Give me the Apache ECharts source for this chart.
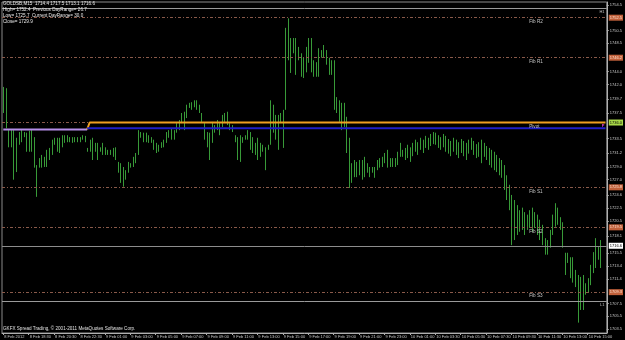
<!DOCTYPE html>
<html><head><meta charset="utf-8">
<script src="https://cdn.jsdelivr.net/npm/echarts@6/dist/echarts.min.js"></script>
<style>html,body{margin:0;padding:0;background:#000;}#c{width:625px;height:340px;}</style>
</head><body><div id="c"></div>
<script>
const symbolName = 'GOLDSB,M15';
const lastBar = [1714.4, 1717.5, 1713.1, 1716.6];
const prevDayHLC = [1752.4, 1725.7, 1729.9];
const dayRanges = [26.7, 30.0];
const copyrightText = 'GKFX Spread Trading, \u00a9 2001-2011 MetaQuotes Software Corp.';

const highs = [
1741.6,1741.4,1734.8,1734.8,1734.8,1733.6,1734.5,1734.8,1734.5,1734.4,
1734.7,1734.8,1733.7,1729.3,1730.4,1730.9,1730.6,1731.7,1732.0,1733.3,
1733.6,1733.6,1733.6,1734.0,1734.0,1734.0,1733.7,1733.7,1733.7,1733.7,
1733.7,1734.0,1733.9,1732.0,1733.3,1733.6,1732.8,1732.8,1732.1,1732.8,
1732.1,1731.7,1731.7,1732.0,1732.1,1729.8,1729.6,1729.0,1728.5,1729.8,
1729.6,1730.6,1731.2,1734.8,1734.5,1734.4,1734.4,1734.0,1733.7,1733.3,
1732.8,1732.5,1732.9,1733.3,1734.5,1734.8,1735.1,1734.8,1735.9,1736.4,
1737.5,1737.7,1738.8,1739.1,1739.2,1739.5,1739.5,1738.8,
1737.5,1735.9,1734.5,1734.4,1736.1,1735.6,1736.4,1735.9,1737.2,1737.5,
1737.7,1735.9,1735.6,1734.0,1733.7,1734.0,1733.7,1734.0,1734.8,1734.5,
1733.7,1732.8,1733.6,1732.8,1732.5,1732.1,1732.5,1739.5,1738.8,1737.2,
1737.2,1737.5,1738.0,1750.9,1752.4,1749.3,1749.3,1749.3,1747.9,1746.9,
1746.2,1747.9,1749.3,1749.3,1745.8,1745.5,1747.7,1747.4,1748.2,1747.4,
1746.2,1745.8,1745.8,1740.0,1739.5,1739.1,1739.1,1736.9,1733.6,1729.6,
1730.1,1729.8,1730.1,1730.1,1730.6,1729.6,1729.0,1729.0,1729.0,1730.1,
1730.4,1730.6,1731.2,1731.7,1730.4,1730.4,1730.4,1731.4,1732.8,1731.7,
1732.0,1732.5,1732.1,1732.8,1733.3,1732.9,1733.6,1733.3,1733.9,1733.6,
1734.2,1734.5,1734.4,1734.0,1733.7,1734.2,1733.9,1733.4,1733.1,1733.6,
1733.3,1732.9,1733.4,1733.1,1732.8,1733.3,1733.6,1733.1,1732.6,1732.9,
1733.3,1732.8,1732.3,1732.0,1731.7,1731.4,1730.9,1730.4,1730.1,1729.3,
1727.7,1726.2,1724.6,1723.8,1723.0,1722.2,1722.6,1721.9,1721.5,1722.2,
1722.6,1721.9,1721.5,1720.7,1719.9,1717.8,1717.5,1719.1,1721.5,1723.3,
1722.6,1721.1,1720.3,
1715.5,1715.5,1714.8,1714.8,1712.8,1712.0,1711.7,1712.0,1710.7,1711.5,
1713.6,1715.6,1717.8,1716.4,1717.5
];
const lows = [
1737.5,1735.1,1732.1,1732.1,1727.0,1728.2,1732.5,1732.9,1733.7,1731.4,
1731.4,1731.4,1728.9,1724.3,1728.9,1728.9,1729.0,1729.0,1730.1,1730.9,
1732.5,1731.4,1731.2,1732.1,1732.8,1732.9,1732.9,1732.8,1732.9,1732.9,
1732.9,1733.3,1732.9,1731.4,1731.4,1730.1,1731.4,1730.1,1731.4,1730.9,
1730.9,1730.9,1730.9,1730.6,1730.1,1728.1,1726.5,1725.9,1727.0,1728.1,
1728.9,1729.0,1729.6,1730.9,1733.6,1732.9,1732.9,1732.8,1732.8,1731.7,
1731.2,1731.4,1732.0,1732.1,1732.8,1733.6,1733.3,1733.3,1734.4,1734.8,
1735.9,1734.8,1736.7,1738.3,1738.0,1738.4,1738.0,1737.5,
1736.1,1733.3,1732.1,1730.1,1732.8,1734.4,1734.8,1734.0,1735.3,1736.1,
1735.6,1734.8,1734.5,1732.9,1730.1,1729.8,1732.8,1733.3,1733.3,1731.7,
1731.2,1730.9,1730.1,1730.6,1731.4,1728.5,1731.7,1732.5,1734.4,1733.3,
1731.7,1735.9,1732.0,1738.0,1745.8,1743.8,1746.9,1743.5,1745.8,1743.2,
1743.0,1743.9,1745.4,1743.9,1743.2,1743.2,1743.2,1746.2,1746.3,1745.1,
1743.5,1743.5,1738.0,1737.5,1736.1,1734.8,1735.3,1731.2,1725.7,1726.5,
1727.4,1727.4,1727.7,1727.0,1727.4,1728.1,1727.4,1728.1,1727.3,1728.5,
1728.9,1729.0,1729.6,1728.9,1729.0,1729.0,1729.0,1729.3,1730.6,1730.6,
1730.1,1730.4,1729.8,1730.7,1731.4,1730.9,1731.7,1731.2,1732.0,1731.7,
1732.3,1732.6,1732.5,1732.0,1731.7,1732.1,1731.4,1731.1,1730.7,1731.4,
1730.9,1730.4,1731.2,1730.7,1730.1,1731.1,1731.7,1730.9,1730.4,1730.6,
1729.6,1730.6,1730.1,1729.3,1728.9,1728.5,1728.2,1727.7,1727.3,1725.4,
1723.8,1722.2,1716.7,1717.5,1718.3,1718.8,1719.1,1718.3,1719.1,1719.4,
1718.8,1719.4,1718.3,1717.5,1716.7,1715.2,1715.2,1716.3,1718.3,1719.6,
1719.9,1719.1,1716.3,
1712.0,1713.9,1711.5,1710.8,1710.1,1704.5,1706.5,1706.5,1708.9,1709.2,
1710.4,1712.3,1713.1,1714.4,1713.1
];

const timeLabels = ['8 Feb 2012','8 Feb 18:30','8 Feb 20:30','8 Feb 22:30','9 Feb 01:00','9 Feb 03:00',
'9 Feb 05:00','9 Feb 07:00','9 Feb 09:00','9 Feb 11:00','9 Feb 13:00','9 Feb 15:00','9 Feb 17:00',
'9 Feb 19:00','9 Feb 21:00','9 Feb 23:00','10 Feb 01:00','10 Feb 03:30','10 Feb 05:30','10 Feb 07:30',
'10 Feb 09:30','10 Feb 11:30','10 Feb 13:00','10 Feb 15:00'];
const priceTicks = [1754.5,1750.5,1748.5,1744.0,1742.0,1739.7,1737.5,1733.5,1731.2,1729.0,1727.0,
1724.6,1722.5,1720.5,1718.1,1715.5,1713.4,1711.4,1707.5,1705.5,1703.5];

const fibNames = ['Fib R2','Fib R1','Pivot','Fib S1','Fib S2','Fib S3'];
const fibLevels = [1752.5, 1746.2, 1736.0, 1725.8, 1719.5, 1709.3];
const fibTextBar = 207;
const pivotLevel = 1736.0;
const prevPivotLevel = 1734.9;
const blueLevel = 1735.1;
const dayStartIndex = 33;
const extremeNames = ['H1','L1'];
const extremeLevels = [1754.0, 1707.9];
const bidPrice = lastBar[3];

const LABEL_EVERY = 10;
const FONT = 'Liberation Sans';
const N = highs.length;
const nCat = N + 2;
const cats = Array.from({length: nCat}, (_, i) => String(i));
const barData = highs.map((h, i) => [i, h, lows[i]]);
const purpleData = cats.map((_, i) => i <= dayStartIndex ? prevPivotLevel : null);
const orangeData = cats.map((_, i) => i < dayStartIndex ? null : (i === dayStartIndex ? prevPivotLevel : pivotLevel));
const blueData = cats.map((_, i) => i < dayStartIndex ? null : blueLevel);

const boxLabel = (v, bg, fg) => ({show: true, position: 'end', distance: 2, formatter: v.toFixed(1),
  backgroundColor: bg, color: fg, fontSize: 4, fontFamily: FONT, padding: [0.5, 1], lineHeight: 5});

const markData = [];
fibLevels.forEach((v, i) => {
  const isPivot = fibNames[i] === 'Pivot';
  markData.push({yAxis: v, lineStyle: {color: '#8a5a4a', type: [3, 2, 1, 2], width: 1},
    label: isPivot ? boxLabel(v, '#a8d848', '#000') : boxLabel(v, '#c0603a', '#ffe0d0')});
});
extremeLevels.forEach((v, i) => {
  markData.push({yAxis: v, lineStyle: {color: '#9a9a9a', type: 'solid', width: 1},
    label: {show: false}});
});
markData.push({yAxis: bidPrice, lineStyle: {color: '#8c8c8c', type: 'solid', width: 1},
  label: boxLabel(bidPrice, '#ffffff', '#000')});

const legendText = [
  symbolName + '  ' + lastBar.map(v => v.toFixed(1)).join(' '),
  'High= ' + prevDayHLC[0].toFixed(1) + '  Previous DayRange= ' + dayRanges[0].toFixed(1),
  'Low= ' + prevDayHLC[1].toFixed(1) + '  Current DayRange= ' + dayRanges[1].toFixed(1),
  'Close= ' + prevDayHLC[2].toFixed(1)
].join('\n');

const chart = echarts.init(document.getElementById('c'), null, {renderer: 'canvas'});
chart.setOption({
  animation: false,
  backgroundColor: '#000000',
  grid: {left: 2, right: 16, top: 2, bottom: 7, show: true, borderColor: '#8a8a8a', borderWidth: 1, backgroundColor: '#000'},
  xAxis: {
    type: 'category', data: cats, boundaryGap: true,
    axisLine: {lineStyle: {color: '#b0b0b0', width: 1}},
    axisTick: {show: true, length: 2, alignWithLabel: true, interval: (i) => i % LABEL_EVERY === 0, lineStyle: {color: '#b0b0b0'}},
    axisLabel: {interval: (i) => i % LABEL_EVERY === 0 && (i / LABEL_EVERY) < timeLabels.length,
      formatter: (v, i) => timeLabels[i / LABEL_EVERY] || '', align: 'left', margin: 2,
      color: '#c8c8c8', fontSize: 4, fontFamily: FONT, padding: [0, 0, 0, 1]},
    splitLine: {show: false}
  },
  yAxis: {
    type: 'value', position: 'right', min: 1702.87, max: 1754.97, scale: true,
    axisLine: {show: true, lineStyle: {color: '#b0b0b0', width: 1}},
    axisTick: {show: true, length: 2, customValues: priceTicks, lineStyle: {color: '#b0b0b0'}},
    axisLabel: {customValues: priceTicks, formatter: (v) => v.toFixed(1), color: '#c8c8c8', fontSize: 4, fontFamily: FONT, margin: 3},
    splitLine: {show: false}
  },
  series: [
    {
      type: 'custom', data: barData, z: 4, silent: true,
      encode: {x: 0, y: [1, 2]},
      renderItem: (params, api) => {
        const hi = api.coord([api.value(0), api.value(1)]);
        const lo = api.coord([api.value(0), api.value(2)]);
        const x = Math.round(hi[0]) + 0.5;
        return {type: 'line', shape: {x1: x, y1: hi[1], x2: x, y2: lo[1]}, style: {stroke: '#389a38', lineWidth: 1}};
      },
      markLine: {silent: true, symbol: ['none', 'none'], animation: false, data: markData}
    },
    {type: 'line', data: purpleData, symbol: 'none', lineStyle: {color: '#b58ee8', width: 2}, silent: true, z: 6},
    {type: 'line', data: orangeData, symbol: 'none', lineStyle: {color: '#f0a020', width: 2}, silent: true, z: 6},
    {type: 'line', data: blueData, symbol: 'none', lineStyle: {color: '#2020c8', width: 2}, silent: true, z: 6}
  ]
});

const px = (i, v) => chart.convertToPixel({xAxisIndex: 0, yAxisIndex: 0}, [i, v]);
const graphics = [
  {id: 'legend', type: 'text', left: 3, top: 1, z: 20, style: {text: legendText, fill: '#e8e8e8', font: '4.6px ' + FONT, lineHeight: 5.8}},
  {id: 'copy', type: 'text', left: 3, top: 326, z: 20, style: {text: copyrightText, fill: '#e0e0e0', font: '4.6px ' + FONT}}
];
fibLevels.forEach((v, i) => {
  const p = px(fibTextBar, v);
  graphics.push({id: 'fib' + i, type: 'text', x: p[0], y: p[1] + 1.5, z: 20,
    style: {text: fibNames[i], fill: '#c8c8c8', font: '4.6px ' + FONT, textVerticalAlign: 'top'}});
});
extremeLevels.forEach((v, i) => {
  const p = px(N + 1, v);
  graphics.push({id: 'ext' + i, type: 'text', x: p[0] - 1, y: p[1] + 1.5, z: 20,
    style: {text: extremeNames[i], fill: '#c0c0c0', font: '4px ' + FONT, textAlign: 'right', textVerticalAlign: 'top'}});
});
{
  const p = px(N + 1, pivotLevel);
  graphics.push({id: 'pmark', type: 'text', x: p[0] - 1, y: p[1] + 1.5, z: 20,
    style: {text: 'P', fill: '#e040e0', font: 'bold 4px ' + FONT, textAlign: 'right', textVerticalAlign: 'top'}});
}
chart.setOption({graphic: graphics});
</script></body></html>
